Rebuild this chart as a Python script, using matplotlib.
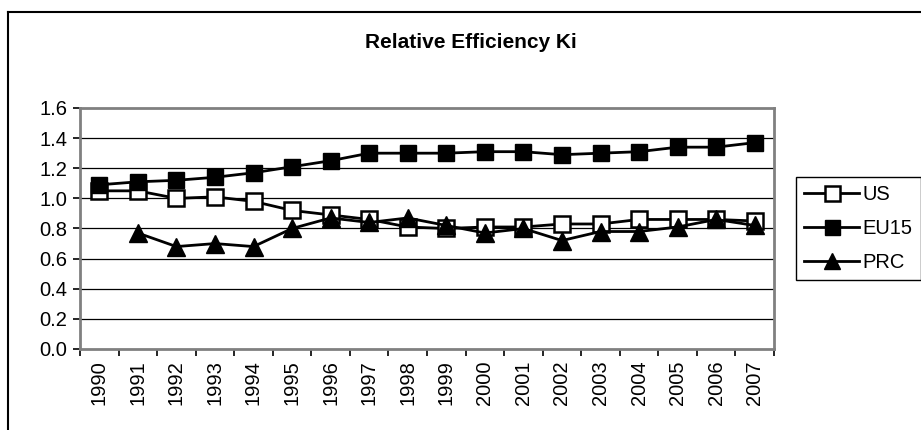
import numpy as np
import matplotlib
matplotlib.use("Agg")
import matplotlib.pyplot as plt
from matplotlib.lines import Line2D

plt.rcParams['font.family'] = ['Liberation Sans', 'DejaVu Sans']

# ── Data ──────────────────────────────────────────────────────
years = [str(y) for y in range(1990, 2008)]
us   = [1.05, 1.05, 1.00, 1.01, 0.98, 0.92, 0.89, 0.86, 0.81, 0.80,
        0.81, 0.81, 0.83, 0.83, 0.86, 0.86, 0.86, 0.85]
eu15 = [1.09, 1.11, 1.12, 1.14, 1.17, 1.21, 1.25, 1.30, 1.30, 1.30,
        1.31, 1.31, 1.29, 1.30, 1.31, 1.34, 1.34, 1.37]
prc  = [np.nan, 0.77, 0.68, 0.70, 0.68, 0.80, 0.87, 0.84, 0.87, 0.82,
        0.77, 0.80, 0.72, 0.78, 0.78, 0.81, 0.86, 0.82]
yticks = [0.0, 0.2, 0.4, 0.6, 0.8, 1.0, 1.2, 1.4, 1.6]

# ── Figure ────────────────────────────────────────────────────
W, H = 921, 430
fig = plt.figure(figsize=(W / 100, H / 100), dpi=100)
ax = fig.add_axes([80 / W, 1 - 349 / H, (774 - 80) / W, (349 - 108) / H])

x = np.arange(len(years))
ax.plot(x, us, color='black', lw=2, marker='s', ms=12, mfc='white',
        mec='black', mew=1.8, label='US')
ax.plot(x, eu15, color='black', lw=2, marker='s', ms=12, mfc='black',
        mec='black', label='EU15')
ax.plot(x, prc, color='black', lw=2, marker='^', ms=13, mfc='black',
        mec='black', label='PRC')

ax.set_xlim(-0.5, len(years) - 0.5)
ax.set_ylim(0, 1.6)
ax.set_yticks(yticks)
ax.set_yticklabels([f"{v:.1f}" for v in yticks], fontsize=14.5)
for v in yticks[1:-1]:
    ax.axhline(v, color='black', lw=0.9, zorder=0)

# category labels at centres, tick marks at boundaries
ax.set_xticks(np.arange(len(years) + 1) - 0.5)
ax.set_xticklabels([])
ax.set_xticks(x, minor=True)
ax.set_xticklabels(years, minor=True, rotation=90, fontsize=14.5)
ax.tick_params(axis='x', which='minor', length=0, pad=8)
ax.tick_params(axis='x', which='major', length=5, width=1.2, color='black')
ax.tick_params(axis='y', length=5, width=1.2, color='black', pad=4)

for s in ax.spines.values():
    s.set_color('#808080')
    s.set_linewidth(2)

fig.text(471 / W, 1 - 42 / H, 'Relative Efficiency Ki', ha='center',
         va='center', fontsize=15, fontweight='bold')

leg = fig.legend(loc='upper left', bbox_to_anchor=(796 / W, 1 - 177 / H),
                 borderaxespad=0, fancybox=False, edgecolor='black',
                 framealpha=1, fontsize=14.5, handlelength=2.75,
                 handletextpad=0.15, labelspacing=0.75, borderpad=0.4,
                 markerscale=0.9)
leg.get_frame().set_linewidth(1)

# outer chart-area border (clipped on the right and bottom)
fig.add_artist(Line2D([8 / W, 1], [1 - 12 / H, 1 - 12 / H],
                      transform=fig.transFigure, color='black', lw=1.5))
fig.add_artist(Line2D([8 / W, 8 / W], [0, 1 - 12 / H],
                      transform=fig.transFigure, color='black', lw=1.5))

plt.savefig("out.png", dpi=100)
